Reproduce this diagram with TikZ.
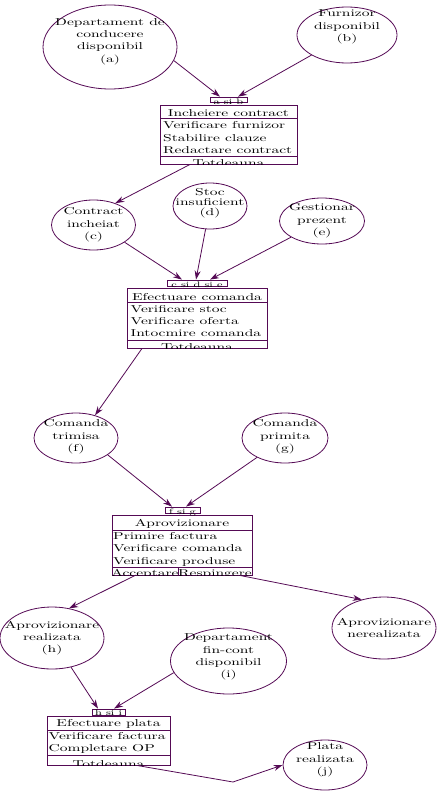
\documentclass[tikz,border=0pt]{standalone}
\usepackage{fontspec}
\setmainfont{lmroman10-regular}[Extension=.otf,FakeStretch=1.55]
\usetikzlibrary{shapes.geometric,arrows.meta}
\definecolor{pc}{RGB}{85,10,85}
\begin{document}
\begin{tikzpicture}[x=1pt,y=-1pt,
 st/.style={ellipse,draw=pc,line width=0.8pt,inner sep=0pt},
 lbl/.style={align=center,inner sep=0pt,text=black,font=\fontsize{10}{12.3}\selectfont},
 bx/.style={rectangle,draw=pc,line width=0.9pt,inner sep=0pt},
 tabst/.style={rectangle,draw=pc,line width=0.8pt,inner sep=0pt},
 tabtx/.style={inner sep=0pt,anchor=base,font=\fontsize{8}{9}\selectfont},
 ttl/.style={inner sep=0pt,anchor=base,font=\fontsize{10}{12}\selectfont},
 itm/.style={inner sep=0pt,anchor=base west,font=\fontsize{10}{12}\selectfont},
 sep/.style={draw=pc,line width=0.9pt},
 arr/.style={draw=pc,line width=0.8pt,-{Stealth[length=9pt,width=6pt]}},
]
\fill[white] (0,0) rectangle (438,792);
\useasboundingbox (0,0) rectangle (438,792);

% ellipses
\node[st,minimum width=134pt,minimum height=84pt] (a) at (110,47) {};
\node[lbl] (at) at (110,41.5) {Departament de\\conducere\\disponibil\\(a)};
\node[st,minimum width=100pt,minimum height=56pt] (b) at (347,35) {};
\node[lbl] (bt) at (347,27) {Furnizor\\disponibil\\(b)};
\node[st,minimum width=84pt,minimum height=50pt] (c) at (93.5,225) {};
\node[lbl] (ct) at (93.5,225) {Contract\\incheiat\\(c)};
\node[st,minimum width=74pt,minimum height=46pt] (d) at (210,206) {};
\node[lbl,font=\fontsize{10}{10.2}\selectfont] (dt) at (210,203) {Stoc\\insuficient\\(d)};
\node[st,minimum width=85pt,minimum height=46pt] (e) at (322,221) {};
\node[lbl] (et) at (322,221) {Gestionar\\prezent\\(e)};
\node[st,minimum width=84pt,minimum height=50pt] (f) at (76,438) {};
\node[lbl] (ft) at (76,437) {Comanda\\trimisa\\(f)};
\node[st,minimum width=86pt,minimum height=50pt] (g) at (285,438) {};
\node[lbl] (gt) at (285,437) {Comanda\\primita\\(g)};
\node[st,minimum width=104pt,minimum height=62pt] (h) at (52,638) {};
\node[lbl] (ht) at (52,638) {Aprovizionare\\realizata\\(h)};
\node[st,minimum width=116pt,minimum height=66pt] (i) at (228.5,661) {};
\node[lbl] (it) at (228.5,657) {Departament\\fin-cont\\disponibil\\(i)};
\node[st,minimum width=104pt,minimum height=62pt] (n) at (384,628) {};
\node[lbl] (nt) at (384,628) {Aprovizionare\\nerealizata};
\node[st,minimum width=84pt,minimum height=50pt] (j) at (325,765) {};
\node[lbl] (jt) at (325,760) {Plata\\realizata\\(j)};

% box 1
\node[bx,minimum width=137pt,minimum height=59pt] (B1) at (228.5,134.5) {};
\draw[sep] (160,118) -- (297,118);
\draw[sep] (160,156) -- (297,156);
\node[ttl] (B1t) at (228.5,116) {Incheiere contract};
\node[itm] (B1i1) at (163,128.3) {Verificare furnizor};
\node[itm] (B1i2) at (163,141) {Stabilire clauze};
\node[itm] (B1i3) at (163,153.7) {Redactare contract};
\begin{scope}\clip (160,156) rectangle (297,164);
\node[ttl] (B1f) at (228.5,166) {Totdeauna};
\end{scope}
\node[tabst,minimum width=37pt,minimum height=5.5pt] (tab1) at (228.5,99.8) {};
\node[tabtx] (tab1t) at (228.5,104) {a si b};

% box 2
\node[bx,minimum width=140pt,minimum height=60pt] (B2) at (197,318) {};
\draw[sep] (127,302) -- (267,302);
\draw[sep] (127,340) -- (267,340);
\node[ttl] (B2t) at (197,300) {Efectuare comanda};
\node[itm] (B2i1) at (130.5,312.3) {Verificare stoc};
\node[itm] (B2i2) at (130.5,324.3) {Verificare oferta};
\node[itm] (B2i3) at (130.5,336.3) {Intocmire comanda};
\begin{scope}\clip (127,340) rectangle (267,348);
\node[ttl] (B2f) at (197,350) {Totdeauna};
\end{scope}
\node[tabst,minimum width=60pt,minimum height=6pt] (tab2) at (197,283) {};
\node[tabtx] (tab2t) at (197,287.5) {c si d si e};

% box 3
\node[bx,minimum width=140pt,minimum height=60pt] (B3) at (182,545) {};
\draw[sep] (112,530) -- (252,530);
\draw[sep] (112,567) -- (252,567);
\draw[sep] (178,567) -- (178,575);
\node[ttl] (B3t) at (182,526.7) {Aprovizionare};
\node[itm] (B3i1) at (113,539.3) {Primire factura};
\node[itm] (B3i2) at (113,551.7) {Verificare comanda};
\node[itm] (B3i3) at (113,564) {Verificare produse};
\begin{scope}\clip (112,567) rectangle (178,575);
\node[ttl] (B3f1) at (145,576.5) {Acceptare};
\end{scope}
\begin{scope}\clip (178,567) rectangle (252,575);
\node[ttl] (B3f2) at (215,576.5) {Respingere};
\end{scope}
\node[tabst,minimum width=35pt,minimum height=6pt] (tab3) at (182.5,510) {};
\node[tabtx] (tab3t) at (182.5,514.5) {f si g};

% box 4
\node[bx,minimum width=123pt,minimum height=49pt] (B4) at (108.5,740.5) {};
\draw[sep] (47,730) -- (170,730);
\draw[sep] (47,755) -- (170,755);
\node[ttl] (B4t) at (108.5,726.7) {Efectuare plata};
\node[itm] (B4i1) at (48.5,739.3) {Verificare factura};
\node[itm] (B4i2) at (48.5,751.7) {Completare OP};
\begin{scope}\clip (47,755) rectangle (170,765);
\node[ttl] (B4f) at (108.5,767) {Totdeauna};
\end{scope}
\node[tabst,minimum width=33pt,minimum height=6pt] (tab4) at (108.5,712) {};
\node[tabtx] (tab4t) at (108.5,715.5) {h si i};

% connectors
\draw[arr] (a.-12) -- ([xshift=-8.5pt]tab1.north);
\draw[arr] (b) -- ([xshift=9.5pt]tab1.north);
\draw[arr] ([xshift=-38.5pt]B1.south) -- (c.45);
\draw[arr] (c.-29) -- ([xshift=-15pt]tab2.north);
\draw[arr] (d) -- ([xshift=-1pt]tab2.north);
\draw[arr] (e) -- ([xshift=13pt]tab2.north);
\draw[arr] ([xshift=-55pt]B2.south) -- (f.50);
\draw[arr] (f.-28) -- ([xshift=-10.5pt]tab3.north);
\draw[arr] (g) -- ([xshift=3.5pt]tab3.north);
\draw[arr] ([xshift=-47pt]B3.south) -- (h.60);
\draw[arr] ([xshift=58pt]B3.south) -- (n.128);
\draw[arr] (h) -- ([xshift=-10.5pt]tab4.north);
\draw[arr] (i.-168) -- ([xshift=5.5pt]tab4.north);
\coordinate (k) at (233,782);
\draw[arr] ([xshift=28.5pt]B4.south) -- (k) -- (j.west);
\end{tikzpicture}
\end{document}
